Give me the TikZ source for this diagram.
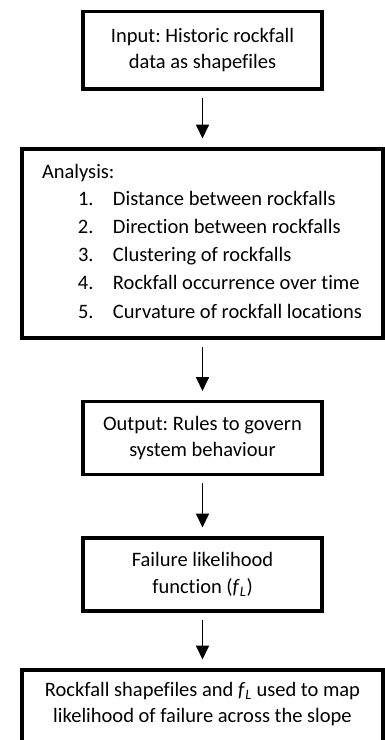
\documentclass[tikz,border=0pt]{standalone}
\usepackage{fontspec}
\setmainfont{Carlito}[Ligatures={NoCommon}]
\usetikzlibrary{arrows.meta}
\frenchspacing
\newcommand{\flowtext}[1]{\parbox{230pt}{\centering\frenchspacing\fontsize{20.5pt}{26.5pt}\selectfont\strut #1\strut}}
\newcommand{\widetext}[1]{\parbox{350pt}{\centering\frenchspacing\fontsize{20.5pt}{26.5pt}\selectfont\strut #1\strut}}
\newcommand{\fL}{\textit{f}\textsubscript{\textit{L}}}
\begin{document}
\begin{tikzpicture}[x=1pt,y=1pt,
  box/.style={draw=black, line width=3.4pt, outer sep=0pt, inner sep=0pt, rectangle, fill=white, text=black},
  narrowbox/.style={box, minimum width=239pt, minimum height=73pt},
  widebox/.style={box, minimum width=361pt},
  flow/.style={draw=black, line width=1.8pt, -{Triangle[width=13pt,length=14pt]}, shorten <=8.5pt, shorten >=10.5pt}
]
\useasboundingbox (0,0) rectangle (385,-740);
\clip (0,0) rectangle (385,-740);

\node[narrowbox, minimum height=77.5pt] (input) at (202.5,-50.25)
  {\flowtext{Input: Historic rockfall\\data as shapefiles}};

\node[widebox, minimum height=189pt] (analysis) at (202.5,-243.5)
  {\raisebox{0pt}[\height][\dimexpr\depth+2.3pt\relax]{\parbox{321pt}{\raggedright\frenchspacing\fontsize{20.5pt}{28.25pt}\selectfont\strut Analysis:\\[-1.25pt]
  \hspace*{36pt}\makebox[35pt][l]{1.}Distance between rockfalls\\
  \hspace*{36pt}\makebox[35pt][l]{2.}Direction between rockfalls\\
  \hspace*{36pt}\makebox[35pt][l]{3.}Clustering of rockfalls\\
  \hspace*{36pt}\makebox[35pt][l]{4.}Rockfall occurrence over time\\
  \hspace*{36pt}\makebox[35pt][l]{5.}Curvature of rockfall locations\strut}}};

\node[narrowbox] (output) at (202.5,-438)
  {\flowtext{Output: Rules to govern\\system behaviour}};

\node[narrowbox] (failure) at (202.5,-574.5)
  {\flowtext{Failure likelihood\\function (\fL)}};

\node[widebox, minimum height=90pt] (map) at (202.5,-715)
  {\raisebox{0pt}[\height][\dimexpr\depth+21.4pt\relax]{\widetext{Rockfall shapefiles and \fL{} used to map\\likelihood of failure across the slope}}};

\draw[flow] (input) -- (analysis);
\draw[flow] (analysis) -- (output);
\draw[flow] (output) -- (failure);
\draw[flow] (failure) -- (map);
\end{tikzpicture}
\end{document}
